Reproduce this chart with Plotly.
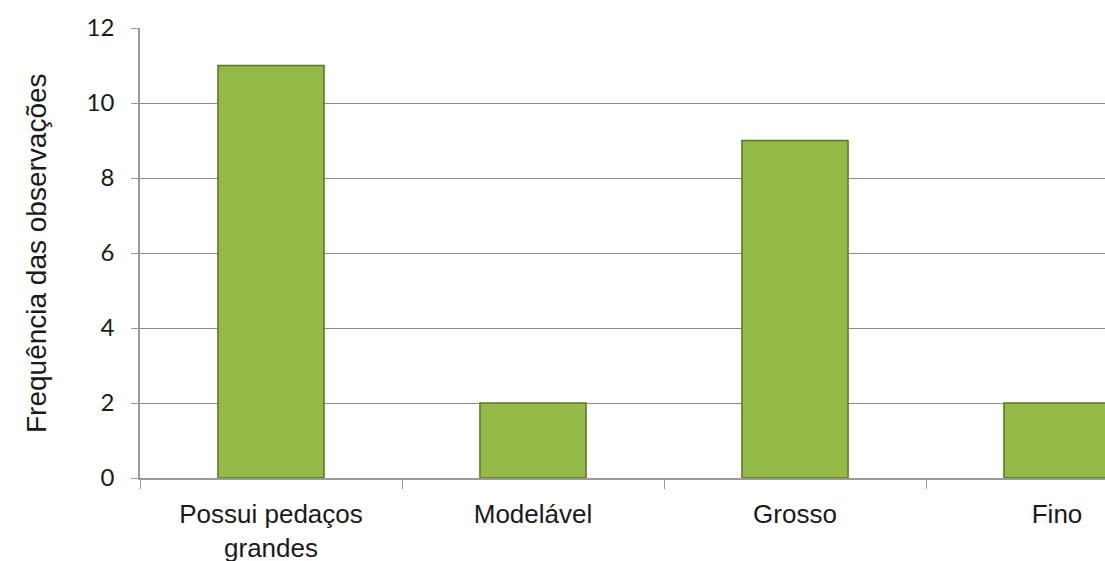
import plotly.graph_objects as go

# Observation counts per texture category
categorias = ["Possui pedaços<br>grandes", "Modelável", "Grosso", "Fino"]
frequencias = [11, 2, 9, 2]
y_ticks = [0, 2, 4, 6, 8, 10, 12]
titulo_y = "Frequência das observações"

fig = go.Figure()
fig.add_trace(go.Bar(
    x=categorias,
    y=frequencias,
    width=0.405,
    marker=dict(color="#93b947", line=dict(color="#5a7725", width=1.5)),
    hoverinfo="x+y",
))

plot_left, plot_width = 140, 965

fig.update_layout(
    width=1105, height=561,
    margin=dict(l=plot_left, r=0, t=28, b=83),
    paper_bgcolor="white", plot_bgcolor="white",
    showlegend=False,
)

fig.update_xaxes(
    range=[-0.5, -0.5 + plot_width / 262],
    automargin=False,
    showgrid=False,
    showline=True, linecolor="#9a9a9a", linewidth=2,
    ticks="outside", tickson="boundaries", ticklen=9, tickcolor="#9a9a9a",
    tickfont=dict(family="Liberation Sans, Arial", size=26, color="#1a1a1a"),
    ticklabelstandoff=12,
)

fig.update_yaxes(
    range=[0, 12],
    automargin=False,
    tickvals=y_ticks,
    showgrid=True, gridcolor="#8c8c8c", gridwidth=1,
    zeroline=False,
    showline=True, linecolor="#9a9a9a", linewidth=1.5,
    ticks="outside", ticklen=7, tickcolor="#9a9a9a",
    tickfont=dict(family="Lato, Liberation Sans", size=24, color="#1a1a1a"),
    ticklabelstandoff=12,
)

# Vertical axis title
fig.add_annotation(
    text=titulo_y, textangle=-90,
    xref="paper", yref="paper",
    x=(36 - plot_left) / plot_width, y=0.5,
    xanchor="center", yanchor="middle", showarrow=False,
    font=dict(family="Liberation Sans, Arial", size=28, color="#1a1a1a"),
)

fig.write_html("out.html")
